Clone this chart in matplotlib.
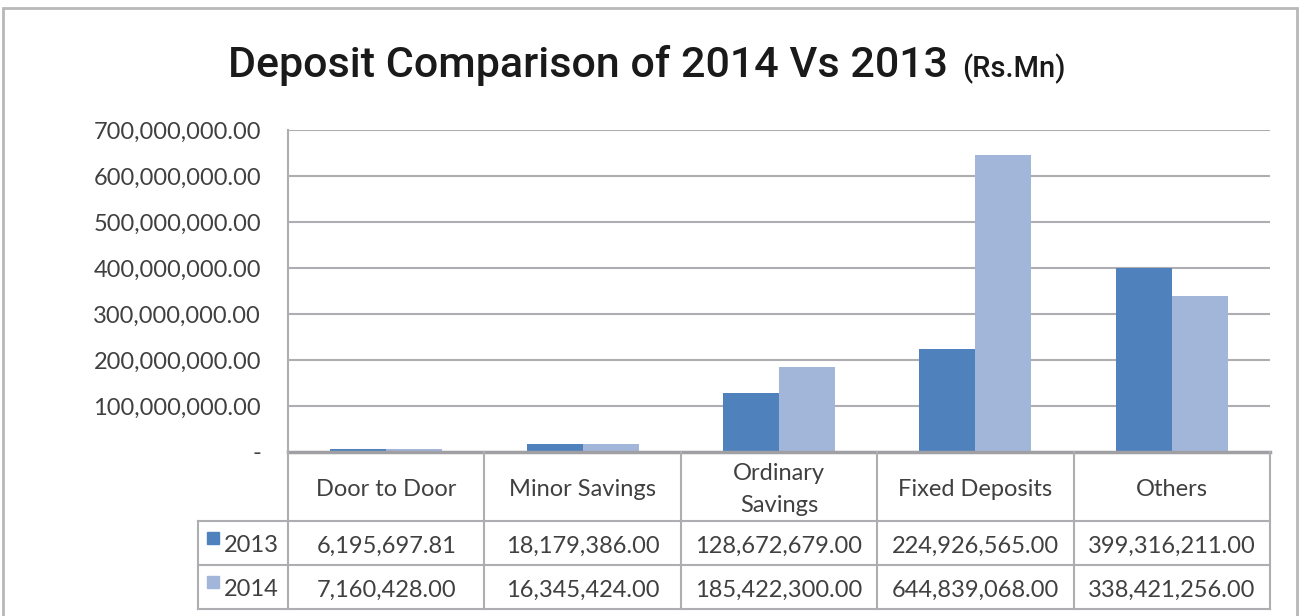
import numpy as np
import matplotlib.pyplot as plt
from matplotlib.transforms import blended_transform_factory
from matplotlib.patches import Rectangle
from matplotlib.lines import Line2D
from matplotlib.ticker import FuncFormatter

categories = ['Door to Door', 'Minor Savings', 'Ordinary\nSavings',
              'Fixed Deposits', 'Others']
years = ['2013', '2014']
dep_2013 = [6195697.81, 18179386.00, 128672679.00, 224926565.00, 399316211.00]
dep_2014 = [7160428.00, 16345424.00, 185422300.00, 644839068.00, 338421256.00]
yticks = [0, 100e6, 200e6, 300e6, 400e6, 500e6, 600e6, 700e6]

c13 = '#4F81BD'
c14 = '#A2B6D9'
grid_c = '#AEAEB2'
txt_c = '#404040'
body_font = 'Lato'
fs = 17

W, H = 1306, 616
fig = plt.figure(figsize=(W / 100, H / 100), dpi=100)

def fx(px):
    return px / W

def fy(py):
    return 1 - py / H

# outer chart border (bottom edge runs off the figure)
fig.patches.append(Rectangle((fx(3), fy(640)), fx(1297) - fx(3), fy(8) - fy(640),
                             transform=fig.transFigure, fill=False,
                             edgecolor='#B8B8B8', linewidth=2))

ax = fig.add_axes([fx(288), fy(452), fx(1270) - fx(288), fy(130) - fy(452)])
x = np.arange(len(categories))
w = 0.285
ax.bar(x - w / 2, dep_2013, w, color=c13, zorder=3)
ax.bar(x + w / 2, dep_2014, w, color=c14, zorder=3)

ax.set_xlim(-0.5, len(categories) - 0.5)
ax.set_ylim(0, 700e6)
ax.set_yticks(yticks)
ax.yaxis.set_major_formatter(FuncFormatter(lambda v, p: '-' if v == 0 else f'{v:,.2f}'))
ax.tick_params(axis='y', length=0, pad=19.5, labelsize=fs, labelcolor=txt_c)
for lab in ax.get_yticklabels():
    lab.set_fontfamily(body_font)
ax.set_xticks([])
ax.grid(axis='y', color=grid_c, linewidth=1.5, zorder=0)
for s in ['top', 'right', 'bottom']:
    ax.spines[s].set_visible(False)
ax.spines['left'].set_color(grid_c)
ax.spines['left'].set_linewidth(1.5)

# data table under the plot: x in data units, y in figure fraction
tr = blended_transform_factory(ax.transData, fig.transFigure)
x0, x1 = -0.5, len(categories) - 0.5
leg_left = ax.transData.inverted().transform((198, 0))[0]
rows_y = [fy(452), fy(521), fy(565), fy(609)]
lc = dict(color=grid_c, linewidth=1.5, transform=tr, clip_on=False)
fig.add_artist(Line2D([x0, x1], [rows_y[0]] * 2, color='#A0A0A4', linewidth=2.5,
                      transform=tr, clip_on=False))
for yy in rows_y[1:]:
    fig.add_artist(Line2D([leg_left, x1], [yy, yy], **lc))
for b in np.arange(len(categories) + 1) - 0.5:
    fig.add_artist(Line2D([b, b], [rows_y[0], rows_y[3]], **lc))
fig.add_artist(Line2D([leg_left, leg_left], [rows_y[1], rows_y[3]], **lc))

shift = 3 / H
tk = dict(transform=tr, ha='center', va='center', fontsize=fs, color=txt_c,
          family=body_font, linespacing=1.6)
for i, cat in enumerate(categories):
    fig.text(x[i], (rows_y[0] + rows_y[1]) / 2 - shift, cat, **tk)
    fig.text(x[i], (rows_y[1] + rows_y[2]) / 2 - shift, f'{dep_2013[i]:,.2f}', **tk)
    fig.text(x[i], (rows_y[2] + rows_y[3]) / 2 - shift, f'{dep_2014[i]:,.2f}', **tk)

for r, (yr, col) in enumerate(zip(years, [c13, c14])):
    yc = (rows_y[r + 1] + rows_y[r + 2]) / 2
    fig.patches.append(Rectangle((fx(207), yc - 0.5 / 100 + 0.004), fx(12), 12 / H,
                                 transform=fig.transFigure, color=col))
    fig.text(fx(224), yc - shift, yr, transform=fig.transFigure, ha='left',
             va='center', fontsize=fs, color=txt_c, family=body_font)

fig.text(fx(948), fy(77), 'Deposit Comparison of 2014 Vs 2013', ha='right',
         va='baseline', fontsize=31, family='Roboto', fontweight='medium',
         color='#1A1A1A')
fig.text(fx(962), fy(77), '(Rs.Mn)', ha='left', va='baseline', fontsize=21,
         family='Roboto', fontweight='medium', color='#1A1A1A')

fig.savefig('out.png', dpi=100)
